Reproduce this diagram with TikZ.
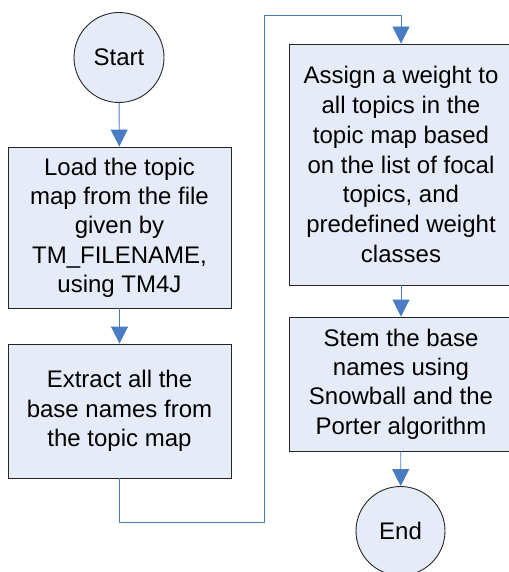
\documentclass[tikz,border=0pt]{standalone}
\usepackage{fontspec}
\setmainfont{Liberation Sans}
\usetikzlibrary{arrows.meta}
\definecolor{boxfill}{RGB}{230,236,247}
\definecolor{linkblue}{RGB}{74,124,196}
\begin{document}
\begin{tikzpicture}[x=1pt,y=-1pt,
  every node/.style={font=\fontsize{24}{29.3}\selectfont, text=black},
  procbox/.style={draw=black!85, line width=0.9pt, fill=boxfill, rectangle, align=center, inner sep=0pt, minimum width=223pt},
  termnode/.style={draw=black!85, line width=0.9pt, fill=boxfill, circle, inner sep=0pt},
  link/.style={draw=linkblue, line width=0.9pt, -{Triangle[length=17pt,width=17pt]}},
  plainlink/.style={draw=linkblue!80, line width=0.9pt}
]
\useasboundingbox (0,0) rectangle (508,572);
\node[termnode, minimum size=90pt] (start) at (119,57.5) {Start};
\node[procbox, minimum height=161pt] (b1) at (119.5,227.5) {Load the topic\\map from the file\\given by\\TM\_FILENAME,\\using TM4J};
\node[procbox, minimum height=134pt] (b2) at (119.5,411) {Extract all the\\base names from\\the topic map};
\node[procbox, minimum height=241pt, font=\fontsize{24}{29.7}\selectfont] (b3) at (401,164.5) {Assign a weight to\\all topics in the\\topic map based\\on the list of focal\\topics, and\\predefined weight\\classes};
\node[procbox, minimum height=134pt] (b4) at (401,384) {Stem the base\\names using\\Snowball and the\\Porter algorithm};
\node[termnode, minimum size=89pt] (end) at (400.5,531) {End};
\coordinate (c1) at (264,522);
\coordinate (c2) at (264,15);
\draw[link] (start) -- (b1);
\draw[link] (b1) -- (b2);
\draw[link] (b2.south) |- (c1) -- (c2) -| (b3.north);
\draw[link] (b3) -- (b4);
\draw[link] (b4) -- (end);
\end{tikzpicture}
\end{document}
